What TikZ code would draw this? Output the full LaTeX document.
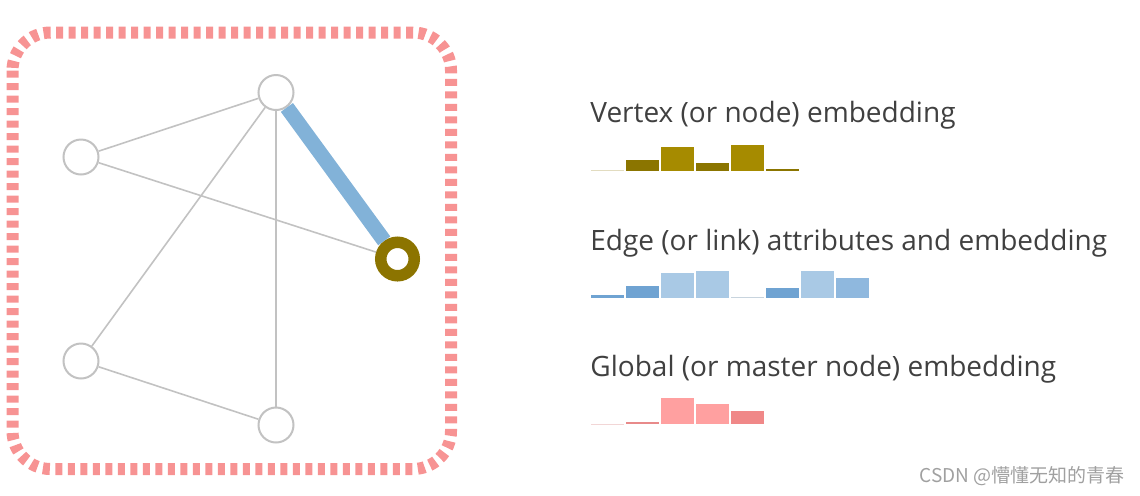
\documentclass[tikz,border=0pt]{standalone}
\usepackage{fontspec}
\setmainfont{Open Sans}
\newfontfamily\cjkfont{Noto Sans CJK SC}
\usepackage{xcolor}
\usetikzlibrary{positioning}

\definecolor{framepink}{HTML}{F79393}
\definecolor{edgegray}{HTML}{C2C2C2}
\definecolor{linkblue}{HTML}{82B2D8}
\definecolor{ringolive}{HTML}{8C7400}
\definecolor{olivepale}{HTML}{E2DCC0}
\definecolor{olivedark}{HTML}{8B7500}
\definecolor{olivebright}{HTML}{A68B00}
\definecolor{bluemid}{HTML}{6FA3D2}
\definecolor{bluelight}{HTML}{A9C9E5}
\definecolor{bluesoft}{HTML}{8FB8DE}
\definecolor{bluegray}{HTML}{C8D4DE}
\definecolor{pinkfaint}{HTML}{F2D6D6}
\definecolor{pinkdark}{HTML}{E88A8A}
\definecolor{pinklight}{HTML}{FFA0A0}
\definecolor{pinkmid}{HTML}{F08888}
\definecolor{labeltext}{HTML}{404040}
\definecolor{marktext}{HTML}{A0A0A0}

\begin{document}
\begin{tikzpicture}[x=0.5pt, y=-0.5pt,
    vertex/.style={circle, draw=edgegray, line width=1pt, fill=white,
        minimum size=17.5pt, inner sep=0pt},
    ringvertex/.style={circle, draw=ringolive, line width=5.75pt, fill=white,
        minimum size=16.75pt, inner sep=0pt},
    plainedge/.style={edgegray, line width=0.8pt},
    caption/.style={anchor=base west, inner sep=0pt, text=labeltext,
        font=\fontsize{14}{17}\selectfont}]

    % =================================================================
    % 1. KHUNG NET DUT BO GOC
    % =================================================================
    \useasboundingbox (0,0) rectangle (1140,495);
    \draw[framepink, line width=6pt, dash pattern=on 3.5pt off 2.75pt,
        rounded corners=19pt] (12.5,32.5) rectangle (451,469);

    % =================================================================
    % 2. CAC DINH CUA DO THI
    % =================================================================
    \node[vertex] (top) at (276,92.5) {};
    \node[vertex] (left) at (81,157) {};
    \node[vertex] (lowleft) at (81,361) {};
    \node[vertex] (bottom) at (276,425) {};
    \node[ringvertex] (ring) at (397.5,259) {};

    % =================================================================
    % 3. CAC CANH
    % =================================================================
    \draw[plainedge] (left) -- (top);
    \draw[plainedge] (left) -- (ring);
    \draw[plainedge] (top) -- (lowleft);
    \draw[plainedge] (top) -- (bottom);
    \draw[plainedge] (lowleft) -- (bottom);

    % Canh duoc to dam, mau xanh
    \draw[linkblue, line width=7.5pt] (top) -- (ring);

    % =================================================================
    % 4. NHAN VA BIEU DO COT
    % =================================================================
    \node[caption] (vtxlabel) at (590,122) {Vertex (or node) embedding};
    \foreach \h/\c [count=\i from 0] in {1/olivepale, 11/olivedark,
        24/olivebright, 8/olivedark, 26.5/olivebright, 2/olivedark}
        \fill[\c] ({591+35*\i},171) rectangle +(33,-\h);

    \node[caption] (edgelabel) at (590,250) {Edge (or link) attributes and embedding};
    \foreach \h/\c [count=\i from 0] in {3/bluemid, 11.7/bluemid,
        24.7/bluelight, 27/bluelight, 1.5/bluegray, 10.3/bluemid,
        27/bluelight, 20.3/bluesoft}
        \fill[\c] ({591+35*\i},298) rectangle +(33,-\h);

    \node[caption] (globlabel) at (590,376) {Global (or master node) embedding};
    \foreach \h/\c [count=\i from 0] in {0.7/pinkfaint, 2/pinkdark,
        26/pinklight, 20.3/pinklight, 13/pinkmid}
        \fill[\c] ({591+35*\i},424.3) rectangle +(33,-\h);

    % Dong chu ghi nguon
    \node[anchor=base east, inner sep=0pt, text=marktext,
        font=\cjkfont\fontsize{9.5}{11}\selectfont] (mark) at (1125,482)
        {CSDN @懵懂无知的青春};

\end{tikzpicture}
\end{document}
